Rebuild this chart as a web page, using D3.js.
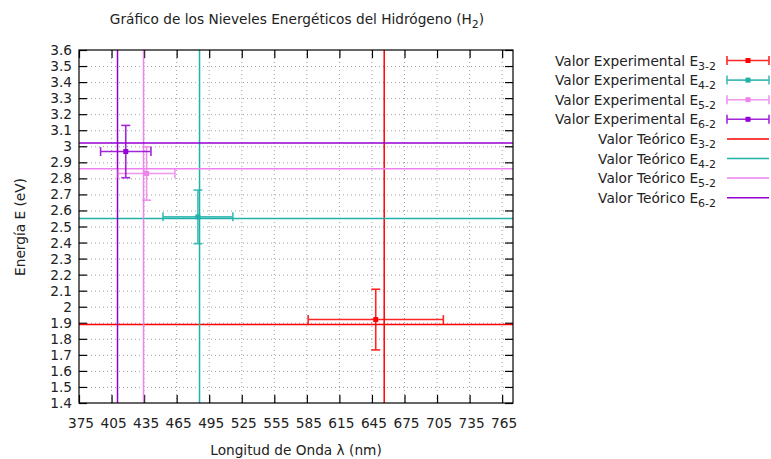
<!DOCTYPE html>
<html><head><meta charset="utf-8">
<script src="https://cdn.jsdelivr.net/npm/d3@7"></script>
<style>body{margin:0;background:#fff}svg{display:block}text{font-family:"DejaVu Sans",sans-serif;fill:#222}</style>
</head><body><svg id="c" width="771" height="459"></svg>
<script>
// ---- data ----
const transitions = ["3-2", "4-2", "5-2", "6-2"];
const colors = ["#ff0000", "#20b2aa", "#ee82ee", "#9400d3"];
const expLambda = [648.5, 484.6, 437.3, 418.1];
const expLambdaErr = [62.3, 32.2, 26.1, 23.2];
const expEnergy = [1.92, 2.56, 2.83, 2.967];
const expEnergyErr = [0.189, 0.167, 0.166, 0.163];
const theoLambda = [656.3, 486.1, 434.5, 410.5];
const theoEnergy = [1.89, 2.55, 2.86, 3.02];
const xTicks = [375, 405, 435, 465, 495, 525, 555, 585, 615, 645, 675, 705, 735, 765];
const yTicks = [1.4, 1.5, 1.6, 1.7, 1.8, 1.9, 2.0, 2.1, 2.2, 2.3, 2.4, 2.5, 2.6, 2.7, 2.8, 2.9, 3.0, 3.1, 3.2, 3.3, 3.4, 3.5, 3.6];

const svg = d3.select("#c");
const L = 79, R = 513, T = 50, B = 403;
const x = d3.scaleLinear().domain([375, 775]).range([L, R]);
const y = d3.scaleLinear().domain([1.4, 3.6]).range([B, T]);
const fs = 13.7;

svg.append("defs").append("clipPath").attr("id", "clip")
  .append("rect").attr("x", L).attr("y", T).attr("width", R - L).attr("height", B - T);

// grid
const g = svg.append("g");
g.selectAll(".gx").data(xTicks.slice(1)).join("line")
  .attr("x1", d => x(d)).attr("x2", d => x(d)).attr("y1", T).attr("y2", B)
  .attr("stroke", "#a0a0a0").attr("stroke-width", 1).attr("stroke-dasharray", "1,3");
g.selectAll(".gy").data(yTicks.slice(1, -1)).join("line")
  .attr("y1", d => y(d) + 0.5).attr("y2", d => y(d) + 0.5).attr("x1", L).attr("x2", R)
  .attr("stroke", "#a0a0a0").attr("stroke-width", 1).attr("stroke-dasharray", "1,3");

// axes (inward ticks, mirrored)
const fmt = d => d3.format("~g")(d);
const axB = svg.append("g").attr("transform", `translate(0,${B})`)
  .call(d3.axisTop(x).tickValues(xTicks).tickSize(8).tickFormat(""));
const axT = svg.append("g").attr("transform", `translate(0,${T})`)
  .call(d3.axisBottom(x).tickValues(xTicks).tickSize(8).tickFormat(""));
const axL = svg.append("g").attr("transform", `translate(${L},0)`)
  .call(d3.axisRight(y).tickValues(yTicks).tickSize(8).tickFormat(""));
const axR = svg.append("g").attr("transform", `translate(${R},0)`)
  .call(d3.axisLeft(y).tickValues(yTicks).tickSize(8).tickFormat(""));
[axB, axT, axL, axR].forEach(a => { a.select(".domain").remove(); a.selectAll("line").attr("stroke", "#000").attr("stroke-width", 1.2); });

// tick labels
svg.append("g").selectAll("text").data(xTicks).join("text")
  .attr("x", d => x(d) + 2).attr("y", B + 25).attr("text-anchor", "middle")
  .attr("font-size", fs).text(d => d);
svg.append("g").selectAll("text").data(yTicks).join("text")
  .attr("x", L - 7).attr("y", d => y(d) + 5).attr("text-anchor", "end")
  .attr("font-size", fs).text(fmt);

// theory lines
const th = svg.append("g").attr("clip-path", "url(#clip)");
transitions.forEach((t, i) => {
  th.append("line").attr("x1", x(theoLambda[i])).attr("x2", x(theoLambda[i])).attr("y1", T).attr("y2", B)
    .attr("stroke", colors[i]).attr("stroke-width", 1.5);
  th.append("line").attr("y1", y(theoEnergy[i])).attr("y2", y(theoEnergy[i])).attr("x1", L).attr("x2", R)
    .attr("stroke", colors[i]).attr("stroke-width", 1.5);
});

// experimental error bars
const ex = svg.append("g").attr("clip-path", "url(#clip)");
const cap = 4.5;
transitions.forEach((t, i) => {
  const cx = x(expLambda[i]), cy = y(expEnergy[i]);
  const x0 = x(expLambda[i] - expLambdaErr[i]), x1 = x(expLambda[i] + expLambdaErr[i]);
  const y0 = y(expEnergy[i] - expEnergyErr[i]), y1 = y(expEnergy[i] + expEnergyErr[i]);
  const gg = ex.append("g").attr("stroke", colors[i]).attr("stroke-width", 1.6).attr("opacity", 0.85);
  gg.append("line").attr("x1", x0).attr("x2", x1).attr("y1", cy).attr("y2", cy);
  gg.append("line").attr("x1", cx).attr("x2", cx).attr("y1", y0).attr("y2", y1);
  gg.append("line").attr("x1", x0).attr("x2", x0).attr("y1", cy - cap).attr("y2", cy + cap);
  gg.append("line").attr("x1", x1).attr("x2", x1).attr("y1", cy - cap).attr("y2", cy + cap);
  gg.append("line").attr("x1", cx - cap).attr("x2", cx + cap).attr("y1", y0).attr("y2", y0);
  gg.append("line").attr("x1", cx - cap).attr("x2", cx + cap).attr("y1", y1).attr("y2", y1);
  ex.append("rect").attr("x", cx - 2.5).attr("y", cy - 2.5).attr("width", 5).attr("height", 5).attr("fill", colors[i]);
});

// border
svg.append("rect").attr("x", L).attr("y", T).attr("width", R - L).attr("height", B - T)
  .attr("fill", "none").attr("stroke", "#000").attr("stroke-width", 1.2);

// labels with subscripts
function sub(sel, base, s, after) {
  sel.append("tspan").text(base);
  sel.append("tspan").attr("font-size", fs * 0.8).attr("dy", 4).text(s);
  if (after) sel.append("tspan").attr("dy", -4).text(after);
}
const title = svg.append("text").attr("x", 297).attr("y", 24).attr("text-anchor", "middle").attr("font-size", fs);
sub(title, "Gráfico de los Nieveles Energéticos del Hidrógeno (H", "2", ")");
svg.append("text").attr("x", 296).attr("y", 455).attr("text-anchor", "middle").attr("font-size", fs)
  .text("Longitud de Onda λ (nm)");
svg.append("text").attr("transform", "translate(25,227) rotate(-90)").attr("text-anchor", "middle")
  .attr("font-size", fs).text("Energía E (eV)");

// legend
const legY0 = 60.5, legDy = 19.6, lx0 = 727, lx1 = 769;
const legItems = [];
transitions.forEach((t, i) => legItems.push({ kind: "exp", i, label: "Valor Experimental E" }));
transitions.forEach((t, i) => legItems.push({ kind: "theo", i, label: "Valor Teórico E" }));
legItems.forEach((d, k) => {
  const yy = legY0 + k * legDy;
  const tx = svg.append("text").attr("x", 716).attr("y", yy + 5).attr("text-anchor", "end").attr("font-size", fs);
  sub(tx, d.label, transitions[d.i]);
  const c = colors[d.i];
  if (d.kind === "exp") {
    const gg = svg.append("g").attr("stroke", c).attr("stroke-width", 1.6).attr("opacity", 0.85);
    gg.append("line").attr("x1", lx0).attr("x2", lx1).attr("y1", yy).attr("y2", yy);
    gg.append("line").attr("x1", lx0).attr("x2", lx0).attr("y1", yy - 4.5).attr("y2", yy + 4.5);
    gg.append("line").attr("x1", lx1).attr("x2", lx1).attr("y1", yy - 4.5).attr("y2", yy + 4.5);
    svg.append("rect").attr("x", (lx0 + lx1) / 2 - 2.5).attr("y", yy - 2.5).attr("width", 5).attr("height", 5).attr("fill", c);
  } else {
    svg.append("line").attr("x1", lx0).attr("x2", lx1).attr("y1", yy).attr("y2", yy)
      .attr("stroke", c).attr("stroke-width", 1.5);
  }
});
</script></body></html>
